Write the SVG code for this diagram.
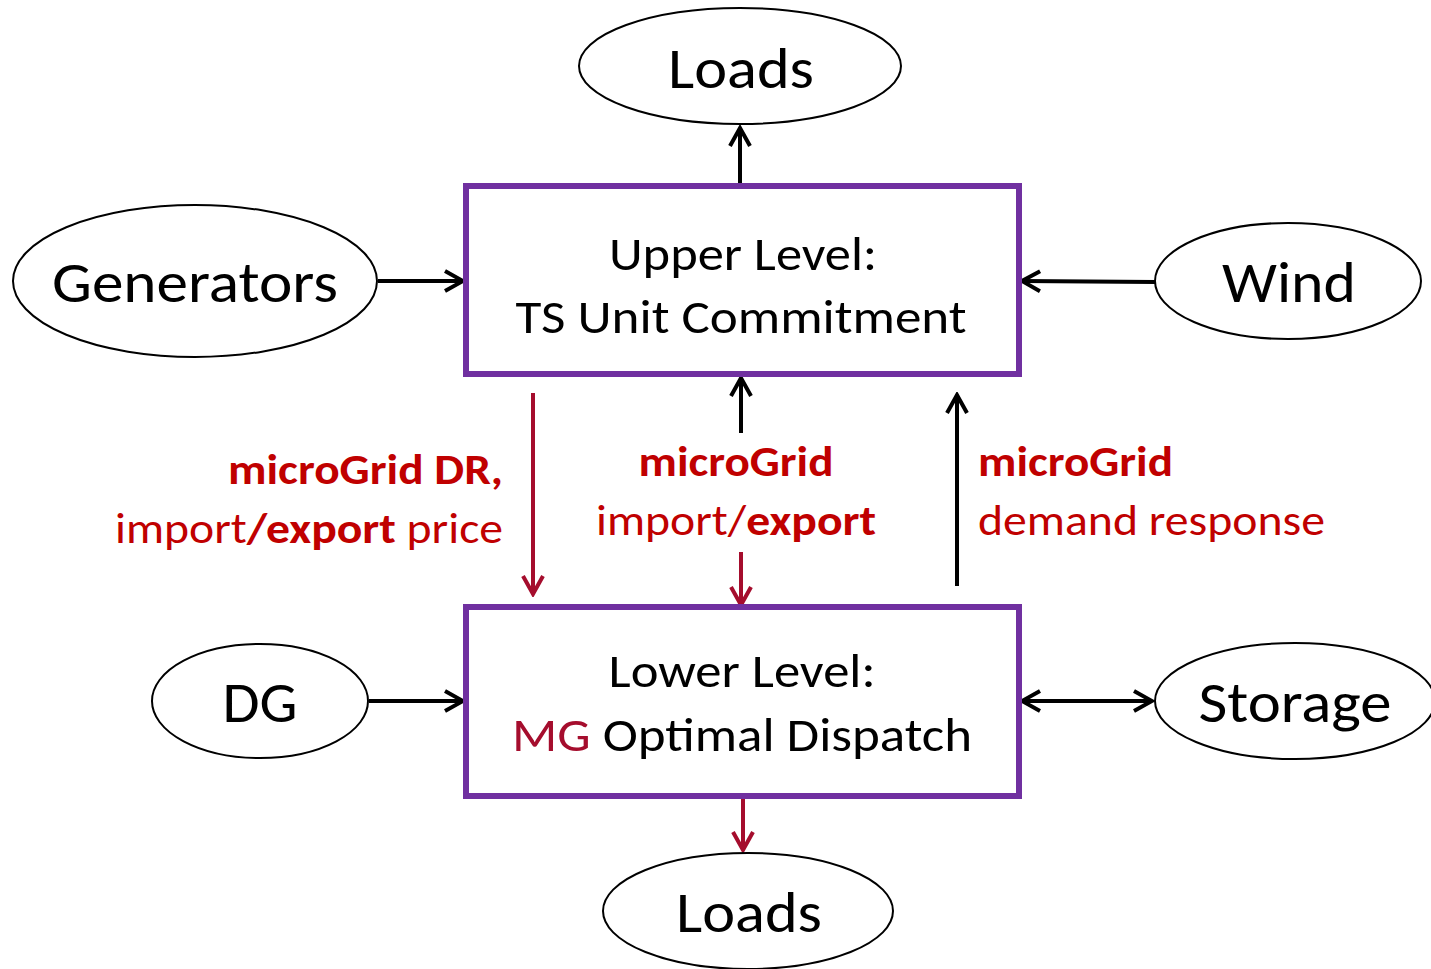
<svg xmlns="http://www.w3.org/2000/svg" width="1431" height="969" viewBox="0 0 1431 969">
<style>
text{font-family:Carlito,Lato,"Open Sans",sans-serif}
.el{fill:#fff;stroke:#000;stroke-width:2}
.box{fill:#fff;stroke:#7030A0;stroke-width:6}
.big{font-size:58px;fill:#000;text-anchor:middle}
.mid{font-size:47px;fill:#000;text-anchor:middle}
.lab{font-size:43px;fill:#C00000}
.b{font-weight:bold}
.k{stroke:#000;stroke-width:4;fill:none}
.r{stroke:#A50D2D;stroke-width:4;fill:none}
</style>
<defs>
<marker id="ak" viewBox="0 0 12 12" refX="10.5" refY="6" markerWidth="6" markerHeight="6" orient="auto-start-reverse" markerUnits="strokeWidth"><path d="M1.5,1 L10.5,6 L1.5,11" fill="none" stroke="#000" stroke-width="2" stroke-linejoin="miter"/></marker>
<marker id="ar" viewBox="0 0 12 12" refX="10.5" refY="6" markerWidth="6" markerHeight="6" orient="auto-start-reverse" markerUnits="strokeWidth"><path d="M1.5,1 L10.5,6 L1.5,11" fill="none" stroke="#A50D2D" stroke-width="2" stroke-linejoin="miter"/></marker>
</defs>
<g id="connectors">
<line class="k" x1="740" y1="186" x2="740" y2="128" marker-end="url(#ak)"/>
<line class="k" x1="378" y1="281" x2="463" y2="281" marker-end="url(#ak)"/>
<line class="k" x1="1155" y1="282" x2="1022" y2="281" marker-end="url(#ak)"/>
<line class="k" x1="369" y1="701" x2="463" y2="701" marker-end="url(#ak)"/>
<line class="k" x1="1022" y1="701" x2="1152" y2="701" marker-start="url(#ak)" marker-end="url(#ak)"/>
<line class="r" x1="743" y1="797" x2="743" y2="850" marker-end="url(#ar)"/>
<line class="r" x1="533" y1="393" x2="533" y2="594" marker-end="url(#ar)"/>
<line class="k" x1="741" y1="433" x2="741" y2="378" marker-end="url(#ak)"/>
<line class="r" x1="741" y1="552" x2="741" y2="605" marker-end="url(#ar)"/>
<line class="k" x1="957" y1="586" x2="957" y2="395" marker-end="url(#ak)"/>
</g>
<g id="loads-top"><ellipse class="el" cx="740" cy="66" rx="161" ry="58"/><text class="big" x="741" y="88" textLength="146" lengthAdjust="spacingAndGlyphs">Loads</text></g>
<g id="generators"><ellipse class="el" cx="195" cy="281" rx="182" ry="76"/><text class="big" x="195" y="302" textLength="286" lengthAdjust="spacingAndGlyphs">Generators</text></g>
<g id="wind"><ellipse class="el" cx="1288" cy="281" rx="133" ry="58"/><text class="big" x="1289" y="302" textLength="134" lengthAdjust="spacingAndGlyphs">Wind</text></g>
<g id="dg"><ellipse class="el" cx="260" cy="701" rx="108" ry="57"/><text class="big" x="260" y="722" textLength="75" lengthAdjust="spacingAndGlyphs">DG</text></g>
<g id="storage"><ellipse class="el" cx="1295" cy="701" rx="140" ry="58"/><text class="big" x="1295" y="722" textLength="193" lengthAdjust="spacingAndGlyphs">Storage</text></g>
<g id="loads-bottom"><ellipse class="el" cx="748" cy="911" rx="145" ry="58"/><text class="big" x="749" y="932" textLength="146" lengthAdjust="spacingAndGlyphs">Loads</text></g>
<g id="upper"><rect class="box" x="466" y="186" width="553" height="188"/><text class="mid" x="743" y="270" textLength="268" lengthAdjust="spacingAndGlyphs">Upper Level:</text><text class="mid" x="741" y="333" textLength="451" lengthAdjust="spacingAndGlyphs">TS Unit Commitment</text></g>
<g id="lower"><rect class="box" x="466" y="607" width="553" height="189"/><text class="mid" x="742" y="687" textLength="267" lengthAdjust="spacingAndGlyphs">Lower Level:</text><text class="mid" x="742" y="751" textLength="460" lengthAdjust="spacingAndGlyphs"><tspan fill="#A50D2D">MG</tspan> Optimal Dispatch</text></g>
<g id="label-left"><text class="lab b" x="503" y="484" text-anchor="end" textLength="275" lengthAdjust="spacingAndGlyphs">microGrid DR,</text><text class="lab" x="503" y="543" text-anchor="end" textLength="388" lengthAdjust="spacingAndGlyphs">import<tspan class="b">/export</tspan> price</text></g>
<g id="label-mid"><text class="lab b" x="736" y="476" text-anchor="middle" textLength="195" lengthAdjust="spacingAndGlyphs">microGrid</text><text class="lab" x="736" y="535" text-anchor="middle" textLength="280" lengthAdjust="spacingAndGlyphs">import/<tspan class="b">export</tspan></text></g>
<g id="label-right"><text class="lab b" x="978" y="476" textLength="195" lengthAdjust="spacingAndGlyphs">microGrid</text><text class="lab" x="978" y="535" textLength="347" lengthAdjust="spacingAndGlyphs">demand response</text></g>
</svg>
